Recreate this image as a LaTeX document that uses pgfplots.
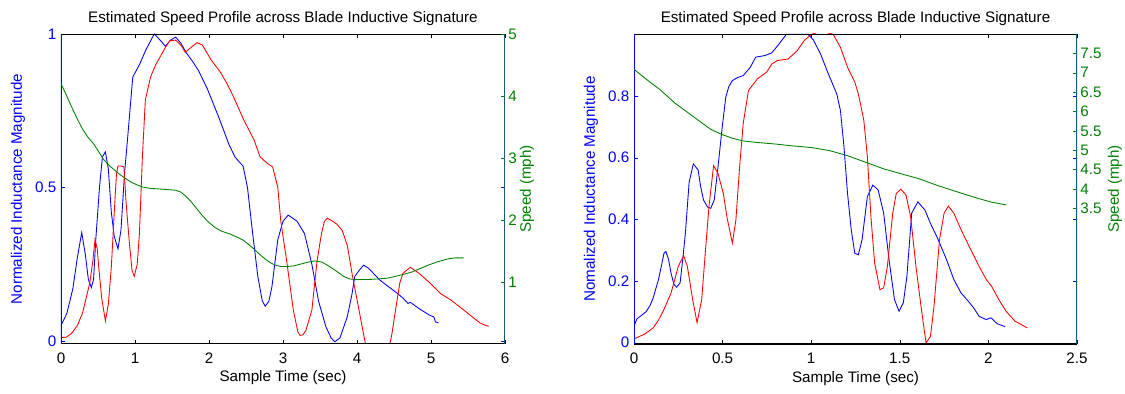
\documentclass[border=0pt]{standalone}
\usepackage{fontspec}
\setmainfont{Liberation Sans}
\usepackage{pgfplots}
\pgfplotsset{compat=1.18}
\definecolor{mblue}{rgb}{0,0,1}
\definecolor{mgreen}{rgb}{0,0.5,0}
\definecolor{mred}{rgb}{1,0,0}
\definecolor{raxis}{RGB}{28,90,120}
\pgfplotsset{
  base/.style={scale only axis, height=232.5pt, anchor=south west,
    /pgf/number format/assume math mode=true,
    font=\fontsize{11.4}{13}\selectfont,
    tick align=inside, major tick length=3pt,
    axis line style={draw=none},
    every axis plot/.append style={line width=0.65pt, mark=none},
    xticklabel style={anchor=base, yshift=-14.5pt, black},
    xtick style={black}, minor tick num=0,
  },
  leftax/.style={base, ytick style={mblue}, yticklabel style={mblue},
    every axis title shift=0pt,
    title style={at={([yshift=8.5pt]axis description cs:0.5,1)}, anchor=base, black},
    xlabel style={at={([yshift=-28.5pt]axis description cs:0.5,0)}, anchor=base, black},
    ylabel style={at={([xshift=-32.25pt]axis description cs:0,0.5)}, anchor=center, mblue},
  },
  rightax/.style={base, axis x line=none, axis y line*=right,
    ytick style={mgreen}, yticklabel style={mgreen, xshift=-1pt},
    ylabel style={at={([xshift=#1]axis description cs:1,0.5)}, anchor=center, mgreen},
  },
}
\begin{document}
\begin{tikzpicture}
\path[use as bounding box] (0,0) rectangle (843.75pt,294.75pt);
% ---------------- Left panel ----------------
\begin{axis}[leftax, at={(45.75pt,36.75pt)}, width=333pt,
  xmin=0, xmax=6, ymin=-0.01, ymax=1,
  xtick={0,1,2,3,4,5,6}, ytick={0,0.5,1},
  title={Estimated Speed Profile across Blade Inductive Signature},
  xlabel={Sample Time (sec)}, ylabel={Normalized Inductance Magnitude}]
\addplot[mblue] coordinates {
(0,0.05) (0.08,0.09) (0.16,0.17) (0.22,0.27) (0.28,0.353) (0.33,0.28) (0.37,0.2) (0.41,0.174)
(0.44,0.2) (0.47,0.33) (0.52,0.5) (0.56,0.6) (0.6,0.616) (0.64,0.56) (0.68,0.42) (0.72,0.34) (0.77,0.30)
(0.81,0.36) (0.86,0.55) (0.9,0.66) (0.97,0.86) (1.06,0.9) (1.15,0.95) (1.26,1.0)
(1.34,0.98) (1.41,0.96) (1.48,0.98) (1.55,0.99) (1.62,0.97) (1.69,0.94) (1.78,0.91) (1.86,0.88) (1.98,0.82)
(2.13,0.73) (2.27,0.64) (2.35,0.6) (2.42,0.58) (2.46,0.57) (2.52,0.50) (2.59,0.35)
(2.66,0.21) (2.72,0.13) (2.76,0.113) (2.81,0.13) (2.85,0.176) (2.93,0.33) (3.0,0.39) (3.07,0.41)
(3.19,0.39) (3.29,0.35) (3.34,0.3) (3.39,0.25) (3.48,0.13) (3.58,0.046) (3.65,0.01) (3.70,-0.003)
(3.77,0.01) (3.87,0.08) (3.93,0.15) (3.97,0.21) (4.03,0.23) (4.09,0.247) (4.16,0.236) (4.31,0.198)
(4.43,0.176) (4.55,0.154) (4.62,0.14) (4.69,0.122) (4.72,0.126) (4.84,0.105) (4.98,0.084) (5.04,0.078)
(5.06,0.062) (5.1,0.059)
};
\addplot[mred] coordinates {
(0,0.011) (0.07,0.012) (0.145,0.025) (0.22,0.05) (0.29,0.09) (0.35,0.15) (0.39,0.19) (0.43,0.26) (0.46,0.33)
(0.49,0.3) (0.51,0.24) (0.55,0.14) (0.6,0.065) (0.64,0.12) (0.68,0.24) (0.72,0.42) (0.75,0.545) (0.77,0.57)
(0.81,0.57) (0.85,0.567) (0.88,0.45) (0.92,0.33) (0.96,0.23) (0.99,0.21) (1.03,0.25) (1.06,0.35) (1.1,0.6)
(1.14,0.785) (1.21,0.86) (1.28,0.9) (1.35,0.93) (1.42,0.96) (1.47,0.978) (1.55,0.98) (1.62,0.964)
(1.68,0.94) (1.74,0.953) (1.84,0.972) (1.91,0.964) (2.03,0.915) (2.15,0.877) (2.24,0.84) (2.33,0.796) (2.47,0.72)
(2.61,0.654) (2.69,0.60) (2.78,0.58) (2.86,0.567) (2.93,0.50) (2.97,0.39) (3.05,0.26) (3.14,0.10) (3.2,0.03) (3.23,0.018)
(3.27,0.02) (3.31,0.035) (3.39,0.10) (3.46,0.26) (3.52,0.35) (3.56,0.39) (3.60,0.40) (3.67,0.39) (3.73,0.38)
(3.80,0.36) (3.87,0.31) (3.94,0.21) (4.02,0.11) (4.09,0.02) (4.14,-0.04) (4.28,-0.12) (4.42,-0.04)
(4.47,0.02) (4.52,0.10) (4.58,0.19) (4.62,0.22) (4.72,0.24) (4.84,0.22) (4.98,0.19) (5.13,0.154) (5.27,0.133)
(5.42,0.105) (5.56,0.078) (5.66,0.059) (5.72,0.052) (5.78,0.048)
};
\draw[black, line width=1pt] (rel axis cs:0,0) -- (rel axis cs:1,0);
\draw[black, line width=0.6pt] (rel axis cs:0,1) -- (rel axis cs:1,1);
\draw[mblue, line width=1pt] (rel axis cs:0,0) -- (rel axis cs:0,1);
\end{axis}
\begin{axis}[rightax=16.5pt, at={(45.75pt,36.75pt)}, width=333pt,
  xmin=0, xmax=6, ymin=0, ymax=5, ytick={1,2,3,4,5},
  ylabel={Speed (mph)}]
\addplot[mgreen] coordinates {
(0,4.2) (0.07,4.02) (0.145,3.82) (0.22,3.63) (0.29,3.47) (0.36,3.34) (0.44,3.23) (0.51,3.1) (0.58,2.97)
(0.65,2.88) (0.73,2.80) (0.8,2.73) (0.87,2.67) (0.95,2.61) (1.02,2.57) (1.11,2.53) (1.21,2.51) (1.33,2.50)
(1.45,2.49) (1.55,2.48) (1.62,2.45) (1.68,2.39) (1.74,2.32) (1.81,2.22) (1.89,2.10) (1.98,1.98) (2.08,1.88)
(2.17,1.82) (2.27,1.78) (2.37,1.73) (2.47,1.67) (2.54,1.6) (2.61,1.53) (2.68,1.45) (2.76,1.37) (2.83,1.31) (2.90,1.27)
(2.97,1.25) (3.05,1.25) (3.15,1.26) (3.24,1.29) (3.34,1.32) (3.43,1.34) (3.53,1.32) (3.6,1.27) (3.68,1.21)
(3.75,1.15) (3.82,1.09) (3.9,1.05) (3.97,1.04) (4.07,1.04) (4.16,1.04) (4.28,1.05) (4.40,1.06) (4.48,1.08) (4.55,1.10)
(4.65,1.13) (4.74,1.16) (4.86,1.22) (4.98,1.28) (5.1,1.33) (5.22,1.37) (5.33,1.39) (5.44,1.39)
};
\draw[raxis, line width=1pt] (rel axis cs:1,0) -- (rel axis cs:1,1);
\end{axis}
% ---------------- Right panel ----------------
\begin{axis}[leftax, at={(475.5pt,36.75pt)}, width=332.25pt,
  xmin=0, xmax=2.5, ymin=-0.004, ymax=1.001,
  xtick={0,0.5,1,1.5,2,2.5}, ytick={0,0.2,0.4,0.6,0.8},
  title={Estimated Speed Profile across Blade Inductive Signature},
  xlabel={Sample Time (sec)}, ylabel={Nomalized Inductance Magnitude}]
\addplot[mblue] coordinates {
(0,0.054) (0.016,0.077) (0.04,0.088) (0.067,0.10) (0.09,0.12) (0.108,0.145) (0.138,0.205) (0.155,0.25) (0.169,0.29)
(0.18,0.296) (0.195,0.27) (0.209,0.226) (0.225,0.19) (0.24,0.18) (0.26,0.194) (0.275,0.27) (0.29,0.355) (0.311,0.52)
(0.335,0.58) (0.362,0.56) (0.375,0.51) (0.392,0.463) (0.415,0.44) (0.433,0.436) (0.453,0.463) (0.474,0.57)
(0.498,0.70) (0.518,0.797) (0.535,0.83) (0.555,0.85) (0.585,0.86) (0.616,0.866) (0.656,0.893) (0.687,0.926)
(0.738,0.931) (0.778,0.94) (0.819,0.969) (0.86,1.0) (0.94,1.0) (0.982,1.0) (1.012,0.982) (1.053,0.936)
(1.093,0.877) (1.144,0.807) (1.165,0.753) (1.185,0.635) (1.205,0.484) (1.226,0.366) (1.246,0.29)
(1.266,0.285) (1.287,0.334) (1.317,0.474) (1.348,0.511) (1.378,0.495) (1.409,0.42) (1.439,0.27)
(1.47,0.14) (1.496,0.102) (1.52,0.13) (1.54,0.215) (1.567,0.42) (1.602,0.457) (1.642,0.43) (1.673,0.387)
(1.713,0.339) (1.764,0.269) (1.805,0.205) (1.846,0.161) (1.886,0.135) (1.917,0.113) (1.947,0.086)
(1.988,0.075) (2.014,0.081) (2.049,0.062) (2.095,0.052)
};
\addplot[mred] coordinates {
(0,0.013) (0.057,0.027) (0.108,0.048) (0.14,0.075) (0.169,0.108) (0.209,0.161) (0.25,0.248) (0.28,0.282)
(0.301,0.248) (0.331,0.14) (0.356,0.065) (0.382,0.14) (0.402,0.29) (0.423,0.441) (0.449,0.574) (0.474,0.549)
(0.504,0.484) (0.524,0.409) (0.555,0.323) (0.575,0.398) (0.596,0.57) (0.616,0.71) (0.646,0.818) (0.697,0.856)
(0.748,0.877) (0.778,0.904) (0.809,0.915) (0.87,0.92) (0.921,0.947) (0.961,0.98) (1.002,1.0) (1.06,1.01)
(1.124,1.0) (1.165,0.958) (1.205,0.893) (1.246,0.845) (1.266,0.807) (1.297,0.721) (1.317,0.603) (1.337,0.409)
(1.358,0.258) (1.388,0.172) (1.409,0.178) (1.43,0.248) (1.46,0.42) (1.48,0.484) (1.506,0.498) (1.535,0.479)
(1.561,0.409) (1.591,0.248) (1.622,0.108) (1.648,0.0) (1.673,0.02) (1.693,0.118) (1.724,0.334) (1.75,0.42)
(1.774,0.443) (1.805,0.42) (1.846,0.366) (1.896,0.307) (1.947,0.248) (1.988,0.205) (2.018,0.183) (2.059,0.14)
(2.1,0.102) (2.15,0.07) (2.22,0.048)
};
\draw[black, line width=1pt] (rel axis cs:0,0) -- (rel axis cs:1,0);
\draw[black, line width=0.6pt] (rel axis cs:0,1) -- (rel axis cs:1,1);
\draw[mblue, line width=1pt] (rel axis cs:0,0) -- (rel axis cs:0,1);
\end{axis}
\begin{axis}[rightax=28.5pt, at={(475.5pt,36.75pt)}, width=332.25pt,
  xmin=0, xmax=2.5, ymin=0, ymax=8, ytick={3.5,4,4.5,5,5.5,6,6.5,7,7.5},
  ylabel={Speed (mph)}]
\addplot[mgreen] coordinates {
(0,7.09) (0.067,6.84) (0.148,6.56) (0.23,6.22) (0.331,5.88) (0.433,5.54) (0.494,5.41) (0.555,5.31)
(0.616,5.24) (0.697,5.20) (0.799,5.16) (0.9,5.11) (1.002,5.07) (1.104,4.99) (1.205,4.86) (1.307,4.69)
(1.409,4.52) (1.51,4.39) (1.612,4.26) (1.713,4.09) (1.815,3.94) (1.917,3.79) (2.018,3.66) (2.1,3.59)
};
\draw[raxis, line width=1pt] (rel axis cs:1,0) -- (rel axis cs:1,1);
\end{axis}
\end{tikzpicture}
\end{document}
